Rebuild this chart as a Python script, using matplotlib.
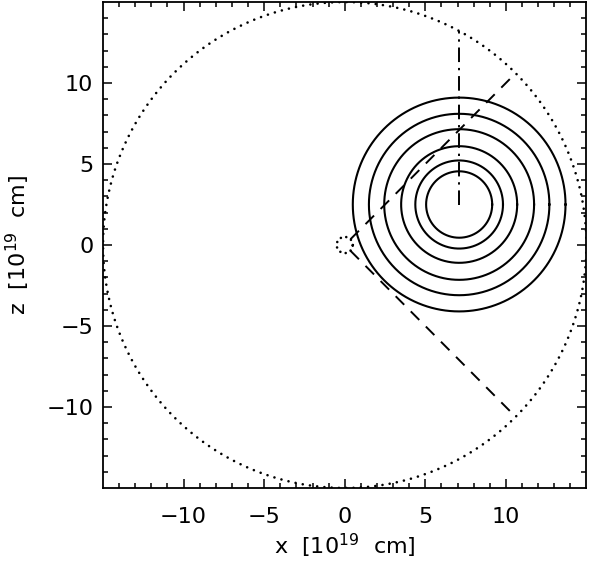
import numpy as np
import matplotlib
matplotlib.use("Agg")
import matplotlib.pyplot as plt

plt.rcParams['font.family'] = ['DejaVu Sans']
plt.rcParams['mathtext.fontset'] = 'dejavusans'

# data
outer_radius = 15.0
inner_radius = 0.5
ring_center = (7.1, 2.5)
ring_radii = [6.6, 5.6, 4.65, 3.6, 2.72, 2.05]
dash_angles_deg = [45, -45]
xlim = (-15, 15)
ylim = (-15, 15)
major_ticks = [-10, -5, 0, 5, 10]

fig = plt.figure(figsize=(5.9, 5.62), dpi=100)
ax = fig.add_axes([0.1746, 0.1317, 0.8194, 0.8647])

t = np.linspace(0, 2 * np.pi, 721)
# big dotted circle
ax.plot(outer_radius * np.cos(t), outer_radius * np.sin(t), color='black', lw=1.9,
        linestyle=(0, (0.01, 2.75)), dash_capstyle='round')
# small dotted circle
ax.plot(inner_radius * np.cos(t), inner_radius * np.sin(t), color='black', lw=1.9,
        linestyle=(0, (0.01, 2.1)), dash_capstyle='round')
# rings
cx, cz = ring_center
for r in ring_radii:
    ax.plot(cx + r * np.cos(t), cz + r * np.sin(t), color='black', lw=1.5)
# dashed rays
for a in dash_angles_deg:
    ar = np.deg2rad(a)
    rr = np.array([inner_radius, outer_radius])
    ax.plot(rr * np.cos(ar), rr * np.sin(ar), color='black', lw=1.4,
            linestyle=(0, (6.2, 4.8)))
# dash-dot vertical
ztop = np.sqrt(outer_radius**2 - cx**2)
ax.plot([cx, cx], [cz, ztop], color='black', lw=1.4,
        linestyle=(0, (7.5, 3, 1.2, 3)))

ax.set_xlim(*xlim)
ax.set_ylim(*ylim)
ax.set_xticks(major_ticks)
ax.set_yticks(major_ticks)
ax.set_xticks(np.arange(-14, 15, 1), minor=True)
ax.set_yticks(np.arange(-14, 15, 1), minor=True)
ax.tick_params(which='both', direction='in', top=True, right=True, width=1.1)
ax.tick_params(which='major', length=6.7)
ax.tick_params(which='minor', length=3.6)
ax.tick_params(axis='x', which='major', pad=14, labelsize=16)
ax.tick_params(axis='y', which='major', pad=7, labelsize=16)
for s in ax.spines.values():
    s.set_linewidth(1.3)

ax.set_xlabel(r'x  [10$^{19}$  cm]', fontsize=16, labelpad=3)
ax.set_ylabel(r'z  [10$^{19}$  cm]', fontsize=16, labelpad=10)

fig.savefig('out.png', dpi=100)
